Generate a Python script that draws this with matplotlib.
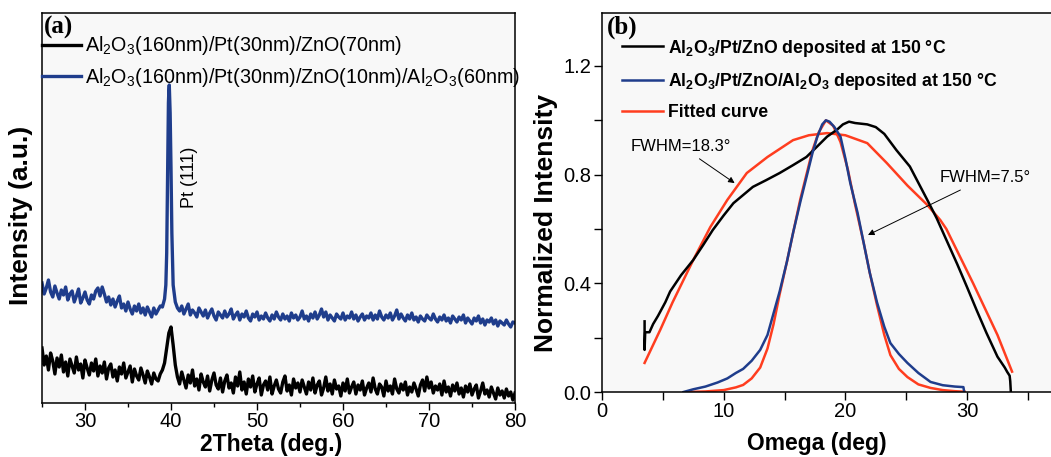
import numpy as np
import matplotlib
matplotlib.use('Agg')
import matplotlib.pyplot as plt
from matplotlib.ticker import MultipleLocator, FormatStrFormatter

plt.rcParams['font.family'] = 'Liberation Sans'
plt.rcParams['mathtext.fontset'] = 'custom'
plt.rcParams['mathtext.rm'] = 'Liberation Sans'
plt.rcParams['mathtext.bf'] = 'Liberation Sans:bold'

# ---- panel (a): XRD scans, read every 0.25 deg from 25 to 80 ----
two_theta = np.arange(25, 80.001, 0.25)
xrd_blue = [120, 109, 115, 123, 111, 106, 117, 110,
            104, 113, 108, 116, 103, 109, 112, 101,
            107, 114, 100, 105, 111, 103, 99, 108,
            104, 112, 115, 107, 116, 109, 101, 106,
            98, 104, 96, 102, 107, 95, 99, 92,
            101, 94, 89, 97, 92, 99, 90, 95,
            88, 96, 91, 86, 95, 89, 93, 97,
            96, 104, 150, 312, 235, 118, 101, 95,
            92, 97, 89, 94, 99, 88, 93, 90,
            86, 95, 91, 87, 93, 85, 90, 94,
            87, 83, 91, 88, 85, 92, 86, 89,
            94, 84, 88, 91, 83, 89, 86, 92,
            85, 82, 89, 86, 91, 83, 87, 84,
            90, 85, 82, 88, 84, 91, 86, 83,
            89, 84, 87, 82, 90, 85, 88, 83,
            86, 92, 84, 87, 82, 89, 85, 91,
            84, 88, 94, 86, 91, 83, 88, 85,
            82, 89, 86, 84, 90, 83, 87, 85,
            91, 84, 88, 82, 86, 89, 83, 87,
            85, 90, 83, 88, 84, 92, 86, 83,
            88, 85, 90, 83, 87, 93, 84, 89,
            85, 82, 88, 84, 90, 83, 86, 81,
            87, 84, 82, 88, 85, 83, 89, 84,
            81, 86, 83, 88, 82, 85, 80, 87,
            84, 81, 86, 83, 88, 80, 85, 82,
            79, 85, 82, 87, 80, 84, 78, 83,
            81, 85, 79, 83, 77, 82, 80, 78,
            83, 79, 76, 81, 80]
xrd_black = [55, 38, 47, 33, 50, 42, 29, 45,
             36, 48, 31, 41, 27, 44, 37, 30,
             46, 33, 39, 25, 43, 35, 28, 40,
             32, 44, 27, 37, 30, 41, 24, 35,
             39, 26, 33, 22, 36, 29, 40, 25,
             31, 37, 21, 34, 27, 23, 35, 28,
             20, 32, 26, 19, 30, 24, 22, 29,
             33, 40, 55, 70, 76, 58, 38, 26,
             19, 31, 23, 15, 28, 20, 33, 17,
             24, 13, 29, 21, 16, 27, 12, 23,
             30, 18, 14, 25, 11, 22, 28, 15,
             20, 10, 26, 17, 31, 13, 21, 9,
             24, 16, 27, 11, 19, 25, 8, 18,
             22, 13, 26, 9, 17, 23, 14, 10,
             21, 27, 12, 18, 8, 24, 15, 20,
             11, 23, 16, 9, 21, 13, 25, 10,
             18, 22, 8, 15, 26, 12, 19, 9,
             23, 14, 17, 7, 20, 12, 24, 10,
             16, 21, 9, 18, 13, 22, 8, 15,
             20, 11, 25, 14, 9, 19, 16, 7,
             22, 12, 17, 9, 24, 14, 10, 19,
             13, 21, 8, 16, 11, 20, 14, 7,
             18, 23, 12, 26, 15, 21, 10, 17,
             13, 19, 8, 22, 11, 16, 7, 18,
             12, 20, 9, 15, 6, 17, 11, 19,
             8, 14, 18, 5, 12, 20, 9, 13,
             6, 16, 10, 4, 15, 8, 12, 5,
             14, 7, 11, 3, 10]
# extra samples across the sharp Pt(111) peak of the blue scan
peak_tt_blue = [39.4, 39.6, 39.7, 39.8, 39.9, 40.1]
peak_blue = [118, 230, 300, 318, 290, 170]

# ---- panel (b): rocking curves ----
om_black = [3.5, 3.5, 3.55, 3.9, 4.2, 4.6, 5.2, 5.6, 6.5, 7.5, 8.3, 9.1, 10.0,
            10.8, 11.6, 12.4, 13.5, 14.6, 15.7, 16.8, 17.6, 18.5, 19.3, 19.8,
            20.3, 20.8, 21.8, 22.5, 23.2, 24.2, 25.3, 26.0, 26.7, 27.5, 28.3,
            29.2, 30.0, 30.8, 31.6, 32.5, 33.1, 33.3, 33.5, 33.55, 33.6]
int_black = [0.26, 0.155, 0.22, 0.22, 0.25, 0.28, 0.33, 0.37, 0.43, 0.486,
             0.54, 0.596, 0.65, 0.695, 0.725, 0.755, 0.78, 0.806, 0.835, 0.865,
             0.9, 0.94, 0.965, 0.985, 0.995, 0.99, 0.985, 0.975, 0.95, 0.89,
             0.83, 0.77, 0.71, 0.64, 0.56, 0.47, 0.386, 0.30, 0.217, 0.13, 0.09,
             0.074, 0.06, 0.04, 0.0]
om_blue = [6.7, 7.5, 8.5, 9.5, 10.3, 11.0, 11.6, 12.3, 13.0, 13.6, 14.1, 14.6,
           15.2, 15.7, 16.3, 16.8, 17.3, 17.7, 18.1, 18.4, 18.7, 19.1, 19.6,
           20.0, 20.4, 21.0, 21.5, 22.0, 22.6, 23.2, 23.7, 24.4, 25.1, 26.0,
           27.0, 28.0, 29.0, 29.7, 29.75]
int_blue = [0.0, 0.01, 0.02, 0.035, 0.05, 0.07, 0.085, 0.115, 0.155, 0.21,
            0.29, 0.37, 0.48, 0.585, 0.70, 0.79, 0.88, 0.94, 0.985, 1.0, 0.995,
            0.975, 0.94, 0.86, 0.77, 0.66, 0.55, 0.44, 0.33, 0.24, 0.18, 0.14,
            0.107, 0.07, 0.037, 0.025, 0.02, 0.018, 0.005]
om_fit_narrow = [7.0, 8.5, 10.0, 11.0, 11.6, 12.3, 13.0, 13.6, 14.1, 14.6, 15.2,
                 15.7, 16.3, 16.8, 17.3, 17.8, 18.4, 19.0, 19.6, 20.2, 20.8,
                 21.5, 22.0, 22.6, 23.2, 23.7, 24.4, 25.1, 26.0, 27.0, 28.0,
                 29.0, 29.8]
int_fit_narrow = [0.0, 0.002, 0.007, 0.017, 0.026, 0.05, 0.09, 0.16, 0.25, 0.36,
                  0.48, 0.585, 0.71, 0.80, 0.89, 0.955, 1.0, 0.98, 0.92, 0.82,
                  0.69, 0.55, 0.44, 0.32, 0.21, 0.136, 0.085, 0.055, 0.028,
                  0.015, 0.007, 0.003, 0.001]
om_fit_wide = [3.5, 4.8, 5.8, 7.5, 8.9, 10.3, 11.9, 13.6, 15.7, 17.0, 18.5, 20.0,
               21.8, 23.4, 25.1, 26.7, 27.8, 28.3, 30.5, 32.5, 33.7]
int_fit_wide = [0.107, 0.23, 0.33, 0.486, 0.607, 0.707, 0.806, 0.865, 0.927,
                0.945, 0.953, 0.945, 0.916, 0.843, 0.76, 0.69, 0.633, 0.60, 0.40,
                0.21, 0.075]

BLUE = '#1f3d8c'
RED = '#ff3d1f'
BG = '#f8f8f8'


def merge(xs, ys, px, py):
    x = np.concatenate([xs, px])
    y = np.concatenate([ys, py])
    order = np.argsort(x, kind='stable')
    return x[order], y[order]


fig = plt.figure(figsize=(10.51, 4.57), dpi=100)

# ---------------- (a) ----------------
ax1 = fig.add_axes([42 / 1051, 54 / 457, 473 / 1051, 390 / 457])
ax1.set_facecolor(BG)
tu, yu = merge(two_theta, xrd_blue, peak_tt_blue, peak_blue)
ax1.plot(two_theta, xrd_black, color='black', lw=2.4,
         label='Al$_\\mathrm{2}$O$_\\mathrm{3}$(160nm)/Pt(30nm)/ZnO(70nm)')
ax1.plot(tu, yu, color=BLUE, lw=2.4,
         label='Al$_\\mathrm{2}$O$_\\mathrm{3}$(160nm)/Pt(30nm)/ZnO(10nm)/Al$_\\mathrm{2}$O$_\\mathrm{3}$(60nm)')
ax1.set_xlim(25, 80)
ax1.set_ylim(0, 390)
ax1.xaxis.set_major_locator(MultipleLocator(10))
ax1.xaxis.set_minor_locator(MultipleLocator(5))
ax1.tick_params(axis='x', which='major', direction='out', length=5, width=1, labelsize=14.5, pad=1.5)
ax1.tick_params(axis='x', which='minor', direction='out', length=3, width=1)
ax1.tick_params(axis='y', left=False, labelleft=False)
for s in ax1.spines.values():
    s.set_linewidth(1.1)
ax1.set_xlabel('2Theta (deg.)', fontsize=16.5, fontweight='bold', va='bottom')
ax1.xaxis.set_label_coords(0.484, -0.135)
ax1.set_ylabel('Intensity (a.u.)', fontsize=19, fontweight='bold')
ax1.yaxis.set_label_coords(-0.019, 0.48)
ax1.text(42.2, 226, 'Pt (111)', rotation=90, ha='center', va='center', fontsize=13)
ax1.text(0.004, 0.992, '(a)', transform=ax1.transAxes, ha='left', va='top',
         fontsize=18, fontweight='bold', family='Liberation Serif')
ax1.legend(loc='upper left', bbox_to_anchor=(0.0, 0.945), frameon=False, fontsize=14.2,
           borderpad=0, borderaxespad=0, handlelength=2.0, handletextpad=0.2,
           labelspacing=0.45)

# ---------------- (b) ----------------
ax2 = fig.add_axes([602 / 1051, 65 / 457, 449 / 1051, 379 / 457])
ax2.set_facecolor(BG)
ax2.plot(om_fit_wide, int_fit_wide, color=RED, lw=1.8)
ax2.plot(om_fit_narrow, int_fit_narrow, color=RED, lw=1.8)
ax2.plot(om_black, int_black, color='black', lw=1.8,
         label='Al$_\\mathbf{2}$O$_\\mathbf{3}$/Pt/ZnO deposited at 150 °C')
ax2.plot(om_blue, int_blue, color=BLUE, lw=1.8,
         label='Al$_\\mathbf{2}$O$_\\mathbf{3}$/Pt/ZnO/Al$_\\mathbf{2}$O$_\\mathbf{3}$ deposited at 150 °C')
ax2.plot([], [], color=RED, lw=1.8, label='Fitted curve')
ax2.set_xlim(0, 36.9)
ax2.set_ylim(0, 1.395)
ax2.xaxis.set_major_locator(MultipleLocator(10))
ax2.xaxis.set_minor_locator(MultipleLocator(5))
ax2.yaxis.set_major_locator(MultipleLocator(0.4))
ax2.yaxis.set_minor_locator(MultipleLocator(0.2))
ax2.yaxis.set_major_formatter(FormatStrFormatter('%.1f'))
ax2.tick_params(which='major', direction='out', length=6, width=1, labelsize=14.5, pad=1.5)
ax2.tick_params(which='minor', direction='out', length=6, width=1)
ax2.spines['right'].set_visible(False)
for s in ax2.spines.values():
    s.set_linewidth(1.1)
ax2.set_xlabel('Omega (deg)', fontsize=16.5, fontweight='bold', va='bottom')
ax2.xaxis.set_label_coords(0.479, -0.167)
ax2.set_ylabel('Normalized Intensity', fontsize=19, fontweight='bold')
ax2.yaxis.set_label_coords(-0.098, 0.446)
ax2.text(0.011, 0.992, '(b)', transform=ax2.transAxes, ha='left', va='top',
         fontsize=18, fontweight='bold', family='Liberation Serif')
ax2.legend(loc='upper left', bbox_to_anchor=(0.045, 0.935), frameon=False,
           prop={'weight': 'bold', 'size': 12.7}, borderpad=0, borderaxespad=0,
           handlelength=2.3, handletextpad=0.3, labelspacing=0.7)

arrow = dict(arrowstyle='-|>', color='black', lw=0.7, mutation_scale=9, shrinkA=3, shrinkB=0)
ax2.annotate('FWHM=18.3°', xy=(10.9, 0.769), xytext=(6.5, 0.905), ha='center', va='center',
             fontsize=12, arrowprops=arrow)
ax2.annotate('FWHM=7.5°', xy=(21.86, 0.578), xytext=(31.5, 0.788), ha='center', va='center',
             fontsize=12, arrowprops=arrow)

fig.savefig('out.png', dpi=100, facecolor='white')
